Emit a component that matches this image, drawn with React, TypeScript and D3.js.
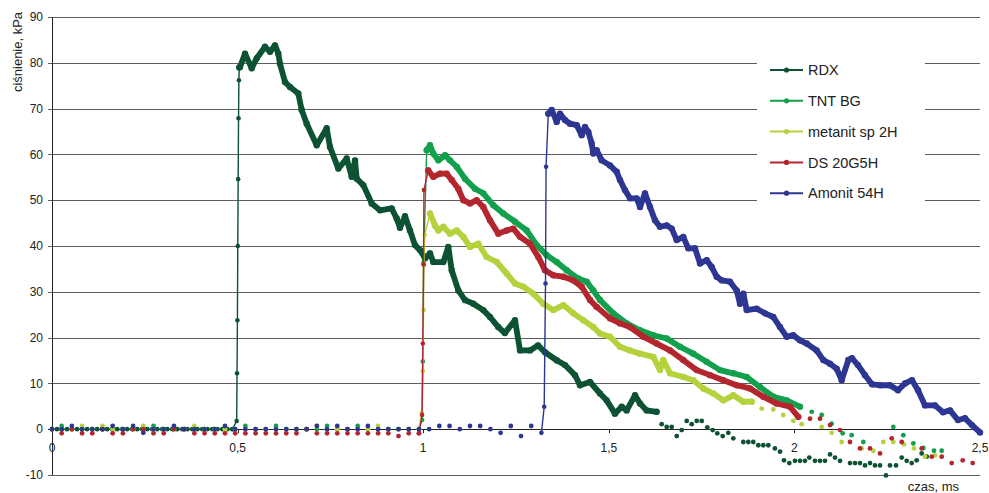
import React from "react";
import * as d3 from "d3";

type P = [number, number];

const seriesNames = ["RDX", "TNT BG", "metanit sp 2H", "DS 20G5H", "Amonit 54H"];
const seriesColors = ["#0c5233", "#12a04c", "#b4d23c", "#b3262d", "#2d3692"];
const yTicks = [-10, 0, 10, 20, 30, 40, 50, 60, 70, 80, 90];
const xTicks = [0, 0.5, 1, 1.5, 2, 2.5];
const xTickLabels = ["0", "0,5", "1", "1,5", "2", "2,5"];

// sparse baseline sample times (ms)
const baseTimes = [0, 0.026, 0.0535, 0.081, 0.1085, 0.136, 0.1635, 0.191, 0.2185, 0.246, 0.2735, 0.301, 0.3285, 0.356, 0.3835, 0.411, 0.4385, 0.466, 0.4935, 0.521, 0.5485, 0.576, 0.6035, 0.631, 0.6585, 0.686, 0.7135, 0.741, 0.7685, 0.796, 0.8235, 0.851, 0.8785, 0.906, 0.9335, 0.961, 0.9885];
const tntBaseVals = [0, 0.7, 0, 0, 0, 0, 0, 0, 0, 0, 0.7, 0, 0, 0, 0, 0, 0, 0, 0, 0.7, 0, 0, 0.7, 0, 0, 0, 0, 0.7, 0, 0, 0.7, 0, 0, 0, 0, 0, 0];
const metBaseVals = [0, 0, 0, 0.7, 0, 0.7, 0, 0, 0, 0.7, 0, 0, 0, 0, 0.7, 0, 0, 0, 0, 0, 0, 0, 0, 0, 0, 0, 0.7, 0, 0, 0, 0, 0, 0.7, 0, 0, 0, 0];
const dsBaseVals = [0, -0.9, 0, -0.9, -0.9, 0, -0.9, -0.9, 0, 0, -0.9, -0.9, 0, 0, -0.9, -0.9, -0.9, -0.9, -0.9, -0.9, -0.9, -0.9, -0.9, -0.9, -0.9, 0, -0.9, -0.9, -0.9, -0.9, -0.9, -0.9, -0.9, -0.9, -1.5, -0.9, -0.9];
const amoBaseVals = [0, 0, 0.7, 0, 0, 0, 0.7, 0, 0.7, -0.8, 0, 0, 0.7, 0, 0, 0, 0, 0.7, 0, 0, 0, 0, 0, 0, 0, 0, 0.7, 0, 0.7, 0, 0, 0.7, 0, 0, 0, 0, 0];
const amoBaseTimes2 = [1.016, 1.0435, 1.071, 1.0985, 1.126, 1.1535, 1.181, 1.2085, 1.236, 1.2635, 1.291];
const amoBaseVals2 = [0, 0.7, 0.7, 0, 0.7, 0.7, 0, -0.8, 0.7, -1.5, 0.7];

const rdxBaseTimes = [0, 0.0135, 0.027, 0.0405, 0.054, 0.0675, 0.081, 0.0945, 0.108, 0.1215, 0.135, 0.1485, 0.162, 0.1755, 0.189, 0.2025, 0.216, 0.2295, 0.243, 0.2565, 0.27, 0.2835, 0.297, 0.3105, 0.324, 0.3375, 0.351, 0.3645, 0.378, 0.3915, 0.405, 0.4185, 0.432, 0.4455, 0.459, 0.4725, 0.486];

// rises (thin line with markers)
const rdxRise: P[] = [[0.486, 0], [0.4975, 1.8], [0.4985, 12.2], [0.4995, 23.8], [0.5005, 40], [0.5015, 54.6], [0.5025, 67.9], [0.5035, 76.2], [0.5045, 79]];
const tntRise: P[] = [[0.9885, 0], [0.997, 2], [0.999, 14.8], [1.001, 36.5], [1.0094, 60.9]];
const metRise: P[] = [[0.9885, 0], [0.996, 3.5], [0.999, 12.7], [1.001, 26], [1.002, 35.8], [1.004, 42.4], [1.0183, 47.1]];
const dsRise: P[] = [[0.9885, -0.9], [0.997, 3.1], [0.999, 18.7], [1.001, 36], [1.002, 52.2], [1.0137, 56.5]];
const amoRise: P[] = [[1.3185, -0.8], [1.326, 4.9], [1.3295, 31.8], [1.331, 57.3], [1.337, 68.9]];

// dense traces
const rdxTrace: P[] = [[0.5045, 79], [0.5065, 79.1], [0.52, 82], [0.538, 78.8], [0.5515, 81], [0.5738, 83.5], [0.5873, 82.4], [0.6008, 83.8], [0.6097, 82], [0.6142, 79.8], [0.6277, 75.8], [0.6412, 74.7], [0.6635, 73.3], [0.6727, 69.7], [0.6862, 66.7], [0.7131, 62], [0.74, 65.7], [0.7489, 61.6], [0.7713, 56.9], [0.7939, 59.1], [0.8074, 55.1], [0.8163, 58.7], [0.8209, 54.7], [0.8386, 53.3], [0.8613, 49.3], [0.8836, 47.8], [0.9151, 48.2], [0.9286, 46], [0.9375, 44], [0.951, 46.5], [0.9644, 43.4], [0.9779, 40.2], [0.9914, 39.1], [1.0049, 37.3], [1.0183, 38.4], [1.0272, 36.5], [1.0542, 36.5], [1.0676, 39.8], [1.0768, 34.7], [1.0946, 30.3], [1.1126, 28.2], [1.135, 27.4], [1.1619, 26], [1.18, 24.5], [1.2023, 22.3], [1.22, 21], [1.2473, 23.8], [1.2608, 17.2], [1.2877, 17.2], [1.3093, 18.3], [1.3281, 16.8], [1.3605, 15], [1.382, 14], [1.4089, 11.8], [1.4224, 9.6], [1.4494, 10.3], [1.4763, 7.8], [1.4943, 6.3], [1.5167, 3.4], [1.5348, 4.9], [1.5482, 4.1], [1.5706, 7.4], [1.5841, 5.6], [1.6021, 4.1], [1.629, 3.8]];
const tntTrace: P[] = [[1.0094, 60.9], [1.0183, 62], [1.0272, 60.2], [1.0407, 58.7], [1.0587, 59.8], [1.0722, 58.7], [1.0902, 57.3], [1.1126, 54.7], [1.1395, 52.5], [1.1619, 51.5], [1.1888, 48.9], [1.2158, 47.1], [1.2473, 45.3], [1.2788, 43.4], [1.3058, 40.2], [1.3327, 38], [1.3596, 36.5], [1.3866, 34.7], [1.4178, 32.9], [1.4404, 32.2], [1.4582, 30.3], [1.4763, 28.2], [1.5121, 25.3], [1.5482, 23.1], [1.5841, 21.6], [1.6199, 20.5], [1.656, 19.8], [1.6918, 18], [1.7276, 16.5], [1.7637, 14.7], [1.7996, 12.9], [1.8354, 12.2], [1.8715, 11.4], [1.9073, 9.2], [1.9432, 7.1], [1.9792, 6.3], [2.0151, 4.9]];
const metTrace: P[] = [[1.0183, 47.1], [1.0318, 44.5], [1.0407, 43.4], [1.0542, 44.2], [1.0722, 42.7], [1.0902, 43.4], [1.108, 42], [1.1261, 39.8], [1.1484, 40.5], [1.1711, 37.6], [1.198, 36.5], [1.2249, 34], [1.2473, 31.8], [1.2697, 31.1], [1.2966, 29.6], [1.3235, 27.4], [1.3505, 26], [1.3774, 27.1], [1.4044, 25.3], [1.4313, 23.8], [1.4582, 22.3], [1.4763, 20.9], [1.5032, 20.2], [1.5302, 18], [1.5571, 17.2], [1.5841, 16.5], [1.6199, 15.8], [1.6379, 12.9], [1.6468, 15.1], [1.6649, 12.2], [1.7007, 11.4], [1.7276, 10.7], [1.7546, 8.9], [1.7815, 7.8], [1.8085, 6.3], [1.8354, 7.4], [1.8623, 6], [1.885, 6]];
const dsTrace: P[] = [[1.0137, 56.5], [1.0272, 55.1], [1.0453, 55.8], [1.0633, 55.8], [1.0768, 54.4], [1.0946, 52.5], [1.108, 50], [1.1261, 49.3], [1.1441, 50], [1.1619, 48.5], [1.18, 45.6], [1.2023, 42.7], [1.2249, 43.4], [1.2427, 43.8], [1.2608, 42], [1.2877, 40.5], [1.3101, 37.6], [1.3281, 34.7], [1.3505, 33.6], [1.3774, 33.3], [1.4044, 32.5], [1.427, 31.1], [1.4494, 28.2], [1.4674, 26.7], [1.5032, 24.2], [1.5302, 23.1], [1.5571, 22.3], [1.5929, 20.2], [1.629, 18.7], [1.6649, 17.2], [1.7007, 15.1], [1.7368, 12.9], [1.7726, 11.8], [1.8085, 10.7], [1.8445, 9.6], [1.8804, 8.9], [1.9162, 7.1], [1.9523, 5.6], [1.9881, 4.9], [2.0105, 2.7]];
const amoTrace: P[] = [[1.337, 68.9], [1.3462, 69.7], [1.3596, 67.1], [1.3685, 68.9], [1.382, 67.5], [1.3955, 66.7], [1.4135, 66.4], [1.427, 64.2], [1.4359, 66], [1.4448, 64.9], [1.4539, 62.4], [1.4582, 60.2], [1.4674, 60.9], [1.4809, 58.7], [1.5032, 57.6], [1.5213, 56.2], [1.5302, 54.4], [1.5436, 52.2], [1.5571, 50.4], [1.5752, 50.4], [1.5841, 48.5], [1.5975, 51.5], [1.611, 48.5], [1.6245, 45.6], [1.6379, 44.2], [1.656, 44.5], [1.6694, 43.8], [1.683, 41.3], [1.7007, 42], [1.7142, 39.5], [1.7322, 39.5], [1.7457, 36.2], [1.7637, 36.9], [1.7772, 35.4], [1.7907, 33.3], [1.8042, 32.5], [1.8265, 32.2], [1.8445, 30.3], [1.8535, 27.4], [1.8625, 29.6], [1.8715, 26], [1.8984, 26.3], [1.9208, 25.3], [1.9432, 24.5], [1.9612, 22.3], [1.9792, 20.2], [1.997, 20.5], [2.0151, 19.4], [2.0332, 18.7], [2.06, 17.2], [2.0779, 15.1], [2.0959, 14.3], [2.1139, 13.2], [2.1274, 10.7], [2.1452, 15.1], [2.1552, 15.5], [2.1713, 14], [2.1902, 11.8], [2.2091, 9.8], [2.2306, 9.6], [2.2575, 9.6], [2.2791, 8.5], [2.298, 10], [2.3168, 10.7], [2.333, 8.5], [2.3518, 5.2], [2.3788, 5.2], [2.4004, 3.7], [2.4192, 4.1], [2.4407, 2], [2.4596, 2.4], [2.4784, 0.9], [2.5, -0.7]];

// sparse tails (markers only)
const rdxTail: P[] = [[1.6425, 1.1], [1.656, 0.5], [1.6694, 0.5], [1.683, -1.5], [1.6964, -0.2], [1.7099, 1.8], [1.7233, 1.1], [1.7368, 1.8], [1.7503, 1.8], [1.7654, 0.4], [1.7799, -0.2], [1.7923, -0.9], [1.8068, -1.5], [1.8219, -0.8], [1.8354, -2], [1.8623, -2.8], [1.8758, -2.8], [1.8893, -2.8], [1.9027, -3.5], [1.9162, -3.5], [1.9297, -3.5], [1.9475, -4.2], [1.9612, -4.9], [1.972, -6.8], [1.9863, -7.4], [2.0016, -6.9], [2.0151, -6.9], [2.0285, -6.9], [2.0401, -6.2], [2.0555, -6.9], [2.069, -6.9], [2.0824, -6.9], [2.0959, -5.5], [2.1094, -6.2], [2.1228, -6.9], [2.1498, -7.4], [2.1633, -7.4], [2.1767, -7.4], [2.1902, -7.9], [2.2037, -7.4], [2.2171, -7.9], [2.2306, -7.9], [2.2468, -10.1], [2.2575, -7.9], [2.2737, -7.9], [2.2891, -6.2], [2.3025, -6.9], [2.316, -7.4], [2.3294, -6.8], [2.3429, -5.3], [2.3564, -6]];
const tntTail: P[] = [[2.0466, 3.8], [2.0735, 3.1], [2.1004, 1.2], [2.1301, -0.9], [2.1543, -1.3], [2.1857, -2.8], [2.2665, 0.5], [2.2934, -1.3], [2.3203, -3.1], [2.3473, -4.1], [2.3761, -4.7], [2.3968, -4.7]];
const metTail: P[] = [[1.9119, 4.5], [1.9432, 4.3], [1.97, 3.1], [1.997, 1.8], [2.0197, 1.1], [2.0735, 0.5], [2.1004, -0.8], [2.1274, -2.8], [2.1813, -4.2], [2.2125, -4.7], [2.2395, -2.8], [2.2665, -2.8], [2.2953, -3.3], [2.3222, -4.2], [2.3518, -6], [2.3788, -5.7]];
const dsTail: P[] = [[2.042, 2.3], [2.069, 2.3], [2.0959, 0.9], [2.1228, -0.2], [2.1498, -2.8], [2.1767, -4.2], [2.2037, -4.2], [2.2306, -5.3], [2.2621, -2], [2.2891, -2.8], [2.3429, -4.2], [2.3699, -6], [2.3968, -6], [2.4238, -7.4], [2.4534, -6.8], [2.4803, -7.4]];

const W = 989;
const H = 493;
const x = d3.scaleLinear().domain([0, 2.5]).range([52, 980]);
const y = d3.scaleLinear().domain([-10, 90]).range([475, 17]);
const line = d3.line<P>().x((d) => x(d[0])).y((d) => y(d[1]));
const FONT = "'Liberation Sans', Arial, sans-serif";

const zip = (t: number[], v: number[]): P[] => t.map((tt, i) => [tt, v[i]] as P);

interface S {
  color: string;
  base: P[];
  baseLine?: boolean;
  rise: P[];
  trace: P[];
  tail: P[];
}

const series: S[] = [
  { color: seriesColors[0], base: zip(rdxBaseTimes, rdxBaseTimes.map(() => 0)), baseLine: true, rise: rdxRise, trace: rdxTrace, tail: rdxTail },
  { color: seriesColors[1], base: zip(baseTimes, tntBaseVals), rise: tntRise, trace: tntTrace, tail: tntTail },
  { color: seriesColors[2], base: zip(baseTimes, metBaseVals), rise: metRise, trace: metTrace, tail: metTail },
  { color: seriesColors[3], base: zip(baseTimes, dsBaseVals), rise: dsRise, trace: dsTrace, tail: dsTail },
  { color: seriesColors[4], base: zip(baseTimes, amoBaseVals).concat(zip(amoBaseTimes2, amoBaseVals2)), rise: amoRise, trace: amoTrace, tail: [] },
];

export default function App() {
  return (
    <svg width={W} height={H} style={{ position: "fixed", left: 0, top: 0, background: "#fff" }} fontFamily={FONT}>
      {/* gridlines */}
      {yTicks.filter((v) => v !== 0).map((v) => (
        <line key={"g" + v} x1={48} x2={980} y1={Math.round(y(v)) + 0.5} y2={Math.round(y(v)) + 0.5} stroke="#5e5e5e" strokeWidth={1} />
      ))}
      {/* y axis */}
      <line x1={52.5} x2={52.5} y1={y(90)} y2={y(-10)} stroke="#222" strokeWidth={1} />
      <line x1={48} x2={52} y1={Math.round(y(0)) + 0.5} y2={Math.round(y(0)) + 0.5} stroke="#222" />
      {/* x axis at zero */}
      <line x1={52} x2={980} y1={Math.round(y(0)) + 0.5} y2={Math.round(y(0)) + 0.5} stroke="#222" strokeWidth={1} />
      {xTicks.map((v) => (
        <line key={"xt" + v} x1={Math.round(x(v)) + 0.5} x2={Math.round(x(v)) + 0.5} y1={y(0)} y2={y(0) + 4} stroke="#222" />
      ))}
      {yTicks.map((v) => (
        <text key={"yl" + v} x={43} y={y(v)} dy="0.35em" textAnchor="end" fontSize={12} fill="#222">{v}</text>
      ))}
      {xTicks.map((v, i) => (
        <text key={"xl" + v} x={x(v)} y={452} textAnchor="middle" fontSize={12} fill="#222">{xTickLabels[i]}</text>
      ))}
      <text transform="translate(22,52) rotate(-90)" textAnchor="middle" fontSize={13} fill="#222">ciśnienie, kPa</text>
      <text x={959} y={491} textAnchor="end" fontSize={13} fill="#222">czas, ms</text>

      {/* series */}
      {series.map((s, si) => (
        <g key={"s" + si}>
          {s.baseLine && <path d={line(s.base) || ""} fill="none" stroke={s.color} strokeWidth={1.5} />}
          {s.base.map((d, i) => (
            <circle key={"b" + i} cx={x(d[0])} cy={y(d[1])} r={2.4} fill={s.color} />
          ))}
          <path d={line(s.rise) || ""} fill="none" stroke={s.color} strokeWidth={1.4} />
          {s.rise.map((d, i) => (
            <circle key={"r" + i} cx={x(d[0])} cy={y(d[1])} r={2.3} fill={s.color} />
          ))}
          <path d={line(s.trace) || ""} fill="none" stroke={s.color} strokeWidth={5.8} strokeLinejoin="round" strokeLinecap="round" />
          {s.trace.map((d, i) => (
            <circle key={"t" + i} cx={x(d[0])} cy={y(d[1])} r={3.2} fill={s.color} />
          ))}
          {s.tail.map((d, i) => (
            <circle key={"e" + i} cx={x(d[0])} cy={y(d[1])} r={2.4} fill={s.color} />
          ))}
        </g>
      ))}

      {/* legend */}
      <rect x={757} y={52} width={168} height={153} fill="#fff" />
      {seriesNames.map((n, i) => {
        const ly = 70 + i * 30.8;
        return (
          <g key={"lg" + i}>
            <line x1={770} x2={803} y1={ly} y2={ly} stroke={seriesColors[i]} strokeWidth={2} />
            <circle cx={786.5} cy={ly} r={2.6} fill={seriesColors[i]} />
            <text x={808} y={ly} dy="0.36em" fontSize={14.5} fill="#222">{n}</text>
          </g>
        );
      })}
    </svg>
  );
}
